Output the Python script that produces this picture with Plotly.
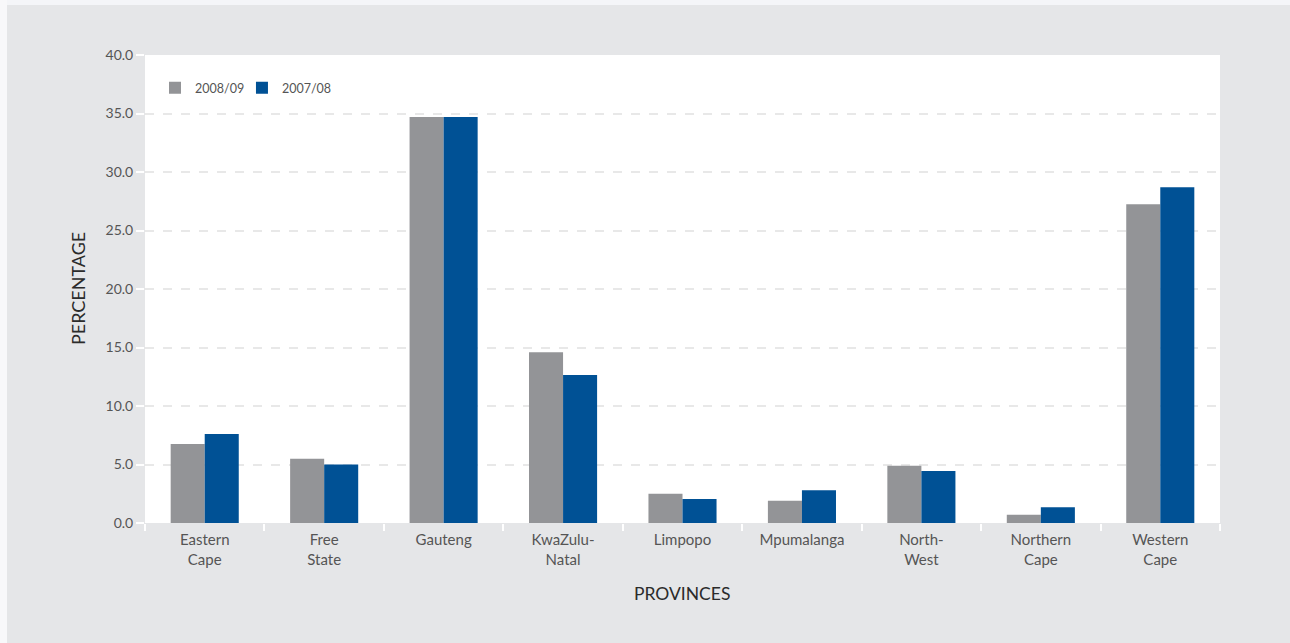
import plotly.graph_objects as go

provinces = ["Eastern<br>Cape", "Free<br>State", "Gauteng", "KwaZulu-<br>Natal", "Limpopo",
             "Mpumalanga", "North-<br>West", "Northern<br>Cape", "Western<br>Cape"]
share_2008_09 = [6.75, 5.5, 34.7, 14.6, 2.5, 1.9, 4.9, 0.7, 27.25]
share_2007_08 = [7.6, 5.0, 34.7, 12.65, 2.05, 2.8, 4.45, 1.35, 28.7]
y_ticks = [0, 5, 10, 15, 20, 25, 30, 35, 40]

GREY = "#939497"
BLUE = "#005195"
PANEL = "#E5E6E8"
FONT = "Lato, 'Open Sans', sans-serif"

fig = go.Figure()
fig.add_trace(go.Bar(name="2008/09", x=provinces, y=share_2008_09, legend="legend",
                     marker=dict(color=GREY, line=dict(width=0))))
fig.add_trace(go.Bar(name="2007/08", x=provinces, y=share_2007_08, legend="legend2",
                     marker=dict(color=BLUE, line=dict(width=0))))

legend_style = dict(orientation="h", y=0.929, xanchor="left", yanchor="middle",
                    bgcolor="rgba(0,0,0,0)", font=dict(size=12.5, color="#555555"),
                    itemwidth=30)

fig.update_layout(
    width=1290, height=643,
    margin=dict(l=145, r=70, t=55, b=120),
    paper_bgcolor=PANEL,
    plot_bgcolor="white",
    barmode="group",
    bargap=0.43,
    bargroupgap=0,
    font=dict(family=FONT, color="#555555", size=14),
    showlegend=True,
    legend=dict(x=0.0093, **legend_style),
    legend2=dict(x=0.0902, **legend_style),
    xaxis=dict(
        type="category",
        tickson="boundaries",
        ticks="outside", ticklen=7, tickcolor="white", tickwidth=1.5,
        ticklabelstandoff=6,
        showgrid=False, showline=False, zeroline=False,
        tickfont=dict(size=15, color="#555555"),
    ),
    yaxis=dict(
        range=[0, 40],
        tickvals=y_ticks,
        ticktext=[f"{v:.1f}" for v in y_ticks],
        ticks="outside", ticklen=8, tickcolor="white", tickwidth=1.5,
        showgrid=True, gridcolor="#E8E8E8", griddash="dash", gridwidth=1.5,
        zeroline=False, showline=False,
        tickfont=dict(size=14, color="#555555"),
    ),
    annotations=[
        dict(text="PERCENTAGE", xref="paper", yref="paper", x=-0.0623, y=0.5,
             textangle=-90, showarrow=False, xanchor="center", yanchor="middle",
             font=dict(size=18, color="#2b2b2b", family=FONT)),
        dict(text="PROVINCES", xref="paper", yref="paper", x=0.4995, y=-0.1496,
             showarrow=False, xanchor="center", yanchor="middle",
             font=dict(size=17.5, color="#2b2b2b", family=FONT)),
    ],
    shapes=[
        # light strips along the top and left edges of the page
        dict(type="rect", xref="paper", yref="paper", x0=-0.14, x1=1.07,
             y0=1.1068, y1=1.13, fillcolor="#F4F5F8", line=dict(width=0), layer="above"),
        dict(type="rect", xref="paper", yref="paper", x0=-0.14, x1=-0.1284,
             y0=-0.27, y1=1.13, fillcolor="#F8F8FA", line=dict(width=0), layer="above"),
    ],
)

fig.write_html("out.html")
